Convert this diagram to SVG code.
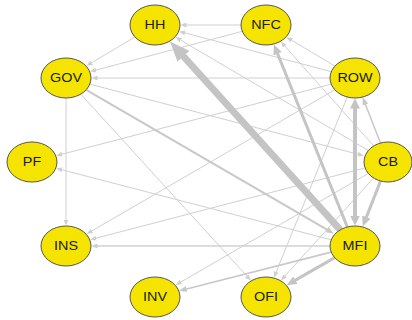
<svg xmlns="http://www.w3.org/2000/svg" width="412" height="320" viewBox="0 0 412 320">
<style>
.e{stroke:#d0d0d0;stroke-width:1;fill:none}
.e2{stroke:#c8c8c8;stroke-width:2;fill:none}
.e3{stroke:#c4c4c4;stroke-width:3;fill:none}
.e4{stroke:#c4c4c4;stroke-width:4;fill:none}
.e7{stroke:#c4c4c4;stroke-width:7;fill:none}
.n ellipse{fill:#f5e400;stroke:#555;stroke-width:1}
.n text{font-family:"Liberation Sans",Arial,sans-serif;font-size:12px;fill:#1a1a1a;text-anchor:middle}
</style>
<defs>
<marker id="a1" markerUnits="userSpaceOnUse" markerWidth="6" markerHeight="5" viewBox="0 0 6 5" refX="0.5" refY="2.5" orient="auto"><path d="M0,0 L6,2.5 L0,5 z" fill="#cfcfcf"/></marker>
<marker id="a2" markerUnits="userSpaceOnUse" markerWidth="8" markerHeight="6" viewBox="0 0 8 6" refX="1" refY="3" orient="auto"><path d="M0,0 L8,3 L0,6 z" fill="#c8c8c8"/></marker>
<marker id="a3" markerUnits="userSpaceOnUse" markerWidth="10" markerHeight="9" viewBox="0 0 10 9" refX="0.5" refY="4.5" orient="auto"><path d="M0,0 L10,4.5 L0,9 z" fill="#c4c4c4"/></marker>
<marker id="a4" markerUnits="userSpaceOnUse" markerWidth="10" markerHeight="10" viewBox="0 0 10 10" refX="0.5" refY="5" orient="auto-start-reverse"><path d="M0,0 L10,5 L0,10 z" fill="#c4c4c4"/></marker>
<marker id="a7" markerUnits="userSpaceOnUse" markerWidth="20" markerHeight="16" viewBox="0 0 20 16" refX="0.5" refY="8" orient="auto"><path d="M0,0 L20,8 L0,16 z" fill="#c4c4c4"/></marker>
</defs>
<g id="edges">
<line class="e" x1="241" y1="25" x2="186" y2="25" marker-end="url(#a1)"/>
<line class="e" x1="135.0" y1="36.9" x2="91.2" y2="63.0" marker-end="url(#a1)"/>
<line class="e" x1="242.3" y1="31.3" x2="95.5" y2="70.2" marker-end="url(#a1)"/>
<line class="e" x1="330" y1="78" x2="97" y2="78" marker-end="url(#a1)"/>
<line class="e" x1="89.8" y1="84.2" x2="358.4" y2="154.3" marker-end="url(#a1)"/>
<line class="e" x1="80.7" y1="94.1" x2="247.2" y2="276.4" marker-end="url(#a1)"/>
<line class="e" x1="66" y1="98" x2="66" y2="220" marker-end="url(#a1)"/>
<line class="e" x1="331.3" y1="71.7" x2="184.5" y2="32.8" marker-end="url(#a1)"/>
<line class="e" x1="367.9" y1="150.2" x2="180.3" y2="39.9" marker-end="url(#a1)"/>
<line class="e" x1="335.0" y1="66.1" x2="291.2" y2="40.0" marker-end="url(#a1)"/>
<line class="e" x1="373.5" y1="145.7" x2="284.5" y2="45.8" marker-end="url(#a1)"/>
<line class="e" x1="331.2" y1="84.2" x2="61.6" y2="154.3" marker-end="url(#a1)"/>
<line class="e" x1="334.8" y1="89.8" x2="91.4" y2="231.2" marker-end="url(#a1)"/>
<line class="e" x1="347.3" y1="97.0" x2="276.0" y2="272.4" marker-end="url(#a1)"/>
<line class="e" x1="364.2" y1="168.2" x2="95.6" y2="238.3" marker-end="url(#a1)"/>
<line class="e" x1="367.8" y1="173.7" x2="180.4" y2="282.3" marker-end="url(#a1)"/>
<line class="e" x1="373.4" y1="178.2" x2="284.7" y2="276.3" marker-end="url(#a1)"/>
<line class="e" x1="331.2" y1="239.8" x2="61.6" y2="169.7" marker-end="url(#a1)"/>
<line class="e" x1="330" y1="246" x2="97" y2="246" marker-end="url(#a1)" style="stroke-width:1.3"/>
<line class="e2" x1="380.5" y1="142.9" x2="365.1" y2="103.6" marker-end="url(#a2)" style="stroke-width:1.5"/>
<line class="e2" x1="331.2" y1="252.1" x2="185.6" y2="289.2" marker-end="url(#a2)" style="stroke-width:1.6"/>
<line class="e2" x1="86.2" y1="89.8" x2="327.9" y2="230.2" marker-end="url(#a2)"/>
<line class="e3" x1="347.3" y1="227.0" x2="277.4" y2="53.3" marker-end="url(#a3)"/>
<line class="e3" x1="380.5" y1="181.1" x2="366.2" y2="217.6" marker-end="url(#a3)"/>
<line class="e3" x1="334.7" y1="257.6" x2="295.0" y2="280.4" marker-end="url(#a3)"/>
<line class="e4" x1="355" y1="108" x2="355" y2="216" marker-start="url(#a4)" marker-end="url(#a4)"/>
<line class="e7" x1="340.3" y1="229.8" x2="183.1" y2="56.0" marker-end="url(#a7)"/>
</g>
<g id="node-HH" class="n"><ellipse cx="155" cy="25" rx="25" ry="20"/><text transform="translate(155,29.3) scale(1.2,1)">HH</text></g>
<g id="node-NFC" class="n"><ellipse cx="266" cy="25" rx="25" ry="20"/><text transform="translate(266,29.3) scale(1.2,1)">NFC</text></g>
<g id="node-GOV" class="n"><ellipse cx="66" cy="78" rx="25" ry="20"/><text transform="translate(66,82.3) scale(1.2,1)">GOV</text></g>
<g id="node-ROW" class="n"><ellipse cx="355" cy="78" rx="25" ry="20"/><text transform="translate(355,82.3) scale(1.2,1)">ROW</text></g>
<g id="node-PF" class="n"><ellipse cx="32" cy="162" rx="25" ry="20"/><text transform="translate(32,166.3) scale(1.2,1)">PF</text></g>
<g id="node-CB" class="n"><ellipse cx="388" cy="162" rx="24" ry="20"/><text transform="translate(388,166.3) scale(1.2,1)">CB</text></g>
<g id="node-INS" class="n"><ellipse cx="66" cy="246" rx="25" ry="20"/><text transform="translate(66,250.3) scale(1.2,1)">INS</text></g>
<g id="node-MFI" class="n"><ellipse cx="355" cy="246" rx="25" ry="20"/><text transform="translate(355,250.3) scale(1.2,1)">MFI</text></g>
<g id="node-INV" class="n"><ellipse cx="155" cy="297" rx="25" ry="20"/><text transform="translate(155,301.3) scale(1.2,1)">INV</text></g>
<g id="node-OFI" class="n"><ellipse cx="266" cy="297" rx="25" ry="20"/><text transform="translate(266,301.3) scale(1.2,1)">OFI</text></g>
</svg>
